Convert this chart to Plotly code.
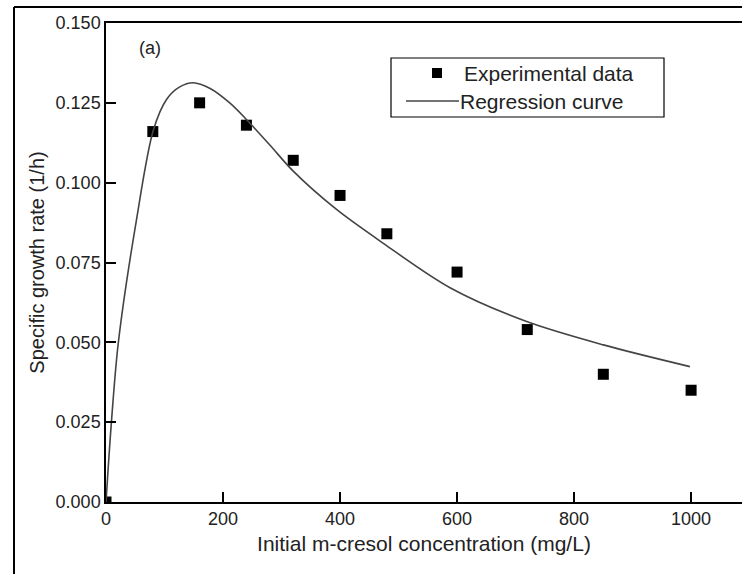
import plotly.graph_objects as go

# Experimental data
exp_x = [0, 80, 160, 240, 320, 400, 480, 600, 720, 850, 1000]
exp_y = [0.0, 0.116, 0.125, 0.118, 0.107, 0.096, 0.084, 0.072, 0.054, 0.040, 0.035]

# Regression curve
reg_x = [0, 9, 21, 52, 81, 104, 126, 149, 178, 212, 240, 280, 320, 394, 474, 588, 719, 850, 998]
reg_y = [0.0, 0.0244, 0.0498, 0.0883, 0.1165, 0.1262, 0.1300, 0.1313, 0.1295, 0.1249, 0.1198,
         0.1118, 0.1036, 0.0916, 0.0810, 0.0671, 0.0565, 0.0492, 0.0424]

y_ticks = [0.0, 0.025, 0.05, 0.075, 0.1, 0.125, 0.15]
x_ticks = [0, 200, 400, 600, 800, 1000]
legend_labels = ["Experimental data", "Regression curve"]

FONT = "Liberation Sans, Arial, sans-serif"
TXT = "#222222"

# plot area in pixels
L, R, T, B = 106, 742, 23, 502
W, H = R - L, B - T


def px(x):
    return (x - L) / W


def py(y):
    return (B - y) / H


fig = go.Figure()
fig.add_trace(go.Scatter(
    x=exp_x, y=exp_y, mode="markers", name=legend_labels[0],
    marker=dict(symbol="square", size=11, color="black"),
))
fig.add_trace(go.Scatter(
    x=reg_x, y=reg_y, mode="lines", name=legend_labels[1],
    line=dict(color="#444444", width=1.6, shape="spline", smoothing=0.9),
))

shapes = [
    # outer frame
    dict(type="line", xref="paper", yref="paper", x0=px(14), x1=px(760), y0=py(7), y1=py(7),
         line=dict(color="black", width=2)),
    dict(type="line", xref="paper", yref="paper", x0=px(14), x1=px(14), y0=py(7), y1=py(590),
         line=dict(color="black", width=2)),
    # legend box
    dict(type="rect", xref="paper", yref="paper", x0=px(391), x1=px(664), y0=py(58), y1=py(117),
         line=dict(color="black", width=1.2), fillcolor="white", layer="below"),
    # legend marker
    dict(type="rect", xref="paper", yref="paper", x0=px(432), x1=px(442), y0=py(68), y1=py(78),
         line=dict(color="black", width=0), fillcolor="black"),
    # legend line
    dict(type="line", xref="paper", yref="paper", x0=px(406), x1=px(459), y0=py(101), y1=py(101),
         line=dict(color="#444444", width=1.6)),
]

annotations = [
    dict(text="(a)", x=px(150), y=py(48), xref="paper", yref="paper", showarrow=False,
         xanchor="center", yanchor="middle", font=dict(size=18, color=TXT)),
    dict(text=legend_labels[0], x=px(462), y=py(73), xref="paper", yref="paper", showarrow=False,
         xanchor="left", yanchor="middle", font=dict(size=21, color=TXT)),
    dict(text=legend_labels[1], x=px(458), y=py(101), xref="paper", yref="paper", showarrow=False,
         xanchor="left", yanchor="middle", font=dict(size=21, color=TXT)),
]

fig.update_layout(
    width=742, height=574,
    margin=dict(l=L, r=742 - R, t=T, b=574 - B),
    paper_bgcolor="white", plot_bgcolor="white",
    font=dict(family=FONT, color=TXT, size=18),
    showlegend=False,
    xaxis=dict(
        range=[0, 1087], tickvals=x_ticks, ticks="inside", ticklen=10,
        tickcolor="black", tickwidth=1.5, showline=True, linecolor="black", linewidth=1.5,
        mirror=True, showgrid=False, zeroline=False,
        tickfont=dict(size=18, color=TXT),
        title=dict(text="Initial m-cresol concentration (mg/L)", font=dict(size=21, color=TXT), standoff=8),
    ),
    yaxis=dict(
        range=[0, 0.15], tickvals=y_ticks, tickformat=".3f", ticks="inside", ticklen=10,
        tickcolor="black", tickwidth=1.5, showline=True, linecolor="black", linewidth=1.5,
        showgrid=False, zeroline=False,
        tickfont=dict(size=18, color=TXT),
        title=dict(text="Specific growth rate (1/h)", font=dict(size=20, color=TXT), standoff=6),
    ),
    annotations=annotations,
    shapes=shapes,
)

fig.write_html("out.html")
